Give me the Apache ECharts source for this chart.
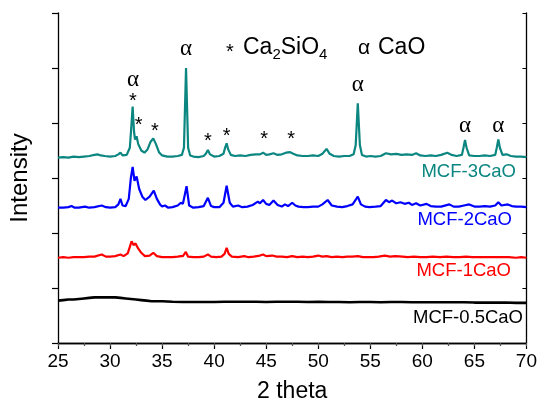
<!DOCTYPE html>
<html><head><meta charset="utf-8">
<script src="https://cdn.jsdelivr.net/npm/echarts@6/dist/echarts.min.js"></script>
<style>html,body{margin:0;padding:0;background:#fff}#c{width:540px;height:408px}</style>
</head><body><div id="c"></div>
<script>
// x-axis tick values (2 theta)
const xTicks = [25, 30, 35, 40, 45, 50, 55, 60, 65, 70];
const seriesNames = ['MCF-3CaO', 'MCF-2CaO', 'MCF-1CaO', 'MCF-0.5CaO'];

// [2theta, stacked intensity (arb. units)]
const mcf3CaO = [[25.0,3.37],[25.5,3.38],[26.0,3.37],[26.5,3.39],[27.0,3.38],[27.5,3.39],[28.0,3.40],[28.5,3.42],[28.8,3.43],[29.1,3.41],[29.5,3.40],[30.0,3.39],[30.5,3.40],[30.8,3.43],[31.0,3.46],[31.2,3.41],[31.6,3.42],[31.9,3.55],[32.05,3.95],[32.17,4.30],[32.3,3.85],[32.4,3.70],[32.55,3.76],[32.7,3.62],[33.0,3.50],[33.3,3.46],[33.6,3.52],[33.9,3.66],[34.15,3.72],[34.4,3.62],[34.7,3.47],[35.0,3.41],[35.5,3.39],[36.0,3.39],[36.5,3.40],[36.9,3.42],[37.1,3.55],[37.3,5.00],[37.5,3.55],[37.7,3.41],[38.0,3.39],[38.5,3.38],[39.0,3.40],[39.2,3.44],[39.4,3.51],[39.6,3.43],[40.0,3.39],[40.5,3.40],[40.9,3.44],[41.05,3.55],[41.2,3.63],[41.35,3.52],[41.6,3.42],[42.0,3.40],[42.5,3.41],[43.0,3.40],[43.5,3.42],[44.0,3.43],[44.4,3.43],[44.7,3.46],[45.0,3.42],[45.3,3.43],[45.7,3.45],[46.1,3.42],[46.5,3.43],[46.9,3.46],[47.3,3.47],[47.6,3.44],[48.0,3.41],[48.5,3.40],[49.0,3.40],[49.5,3.41],[50.0,3.40],[50.4,3.44],[50.8,3.53],[51.1,3.44],[51.5,3.40],[52.0,3.39],[52.5,3.40],[53.0,3.40],[53.4,3.43],[53.6,3.60],[53.8,4.36],[54.0,3.60],[54.2,3.42],[54.6,3.39],[55.0,3.40],[55.5,3.39],[56.0,3.40],[56.5,3.45],[57.0,3.43],[57.5,3.44],[58.0,3.42],[58.5,3.43],[59.0,3.42],[59.4,3.45],[59.8,3.41],[60.3,3.40],[60.8,3.41],[61.3,3.40],[61.8,3.42],[62.4,3.46],[62.8,3.42],[63.3,3.40],[63.8,3.42],[63.95,3.55],[64.1,3.69],[64.25,3.55],[64.5,3.41],[65.0,3.40],[65.5,3.40],[66.0,3.41],[66.5,3.40],[67.0,3.42],[67.15,3.55],[67.3,3.70],[67.45,3.55],[67.7,3.42],[68.1,3.43],[68.5,3.40],[69.0,3.39],[69.5,3.39],[70.0,3.38]];

const mcf2CaO = [[25.0,2.46],[25.5,2.46],[26.0,2.47],[26.3,2.49],[26.6,2.46],[27.0,2.46],[27.6,2.48],[28.0,2.46],[28.5,2.47],[29.2,2.50],[29.6,2.47],[30.0,2.46],[30.5,2.47],[30.8,2.52],[31.0,2.62],[31.2,2.50],[31.5,2.49],[31.8,2.62],[32.0,3.00],[32.17,3.20],[32.35,2.95],[32.55,3.03],[32.8,2.80],[33.1,2.66],[33.4,2.60],[33.8,2.66],[34.2,2.77],[34.5,2.62],[34.8,2.52],[35.0,2.48],[35.27,2.50],[35.6,2.46],[36.0,2.47],[36.5,2.50],[36.8,2.55],[37.0,2.53],[37.35,2.85],[37.6,2.50],[38.0,2.46],[38.5,2.47],[39.0,2.49],[39.4,2.64],[39.7,2.49],[40.0,2.47],[40.5,2.47],[40.9,2.55],[41.2,2.86],[41.5,2.55],[41.8,2.48],[42.3,2.50],[42.7,2.47],[43.2,2.48],[43.7,2.51],[44.2,2.57],[44.4,2.54],[44.7,2.60],[45.0,2.53],[45.3,2.51],[45.7,2.59],[46.1,2.51],[46.5,2.48],[46.8,2.52],[47.1,2.49],[47.5,2.55],[47.8,2.50],[48.1,2.48],[48.6,2.47],[49.0,2.47],[49.5,2.48],[50.0,2.48],[50.4,2.52],[50.9,2.60],[51.3,2.50],[51.8,2.48],[52.3,2.47],[52.8,2.49],[53.3,2.52],[53.8,2.66],[54.1,2.52],[54.5,2.48],[54.9,2.47],[55.5,2.48],[56.0,2.49],[56.5,2.60],[56.8,2.56],[57.1,2.59],[57.5,2.54],[57.9,2.56],[58.3,2.53],[58.7,2.55],[59.0,2.51],[59.4,2.54],[59.8,2.50],[60.4,2.53],[60.8,2.49],[61.3,2.48],[61.8,2.48],[62.6,2.52],[63.0,2.48],[63.5,2.48],[64.0,2.50],[64.5,2.52],[65.0,2.48],[65.5,2.48],[66.0,2.49],[66.5,2.48],[67.0,2.50],[67.3,2.56],[67.6,2.50],[68.2,2.52],[68.6,2.49],[69.0,2.48],[69.5,2.48],[70.0,2.47]];

const mcf1CaO = [[25.0,1.55],[25.5,1.56],[26.0,1.55],[26.5,1.56],[27.0,1.56],[27.5,1.56],[28.0,1.57],[28.5,1.57],[29.2,1.61],[29.6,1.57],[30.0,1.57],[30.5,1.58],[31.0,1.61],[31.3,1.58],[31.7,1.63],[32.07,1.85],[32.25,1.78],[32.45,1.81],[32.7,1.72],[33.0,1.64],[33.35,1.58],[33.8,1.59],[34.15,1.64],[34.5,1.58],[35.0,1.56],[35.5,1.56],[36.0,1.56],[36.5,1.57],[36.8,1.58],[37.0,1.58],[37.28,1.655],[37.5,1.57],[38.0,1.56],[38.5,1.56],[39.0,1.57],[39.4,1.61],[39.7,1.57],[40.2,1.56],[40.7,1.57],[41.0,1.62],[41.2,1.73],[41.4,1.62],[41.7,1.57],[42.3,1.56],[42.9,1.58],[43.3,1.56],[43.8,1.57],[44.4,1.59],[44.7,1.61],[45.0,1.58],[45.6,1.59],[46.0,1.57],[46.5,1.57],[47.0,1.56],[47.5,1.58],[48.0,1.56],[48.5,1.57],[49.0,1.56],[49.5,1.57],[50.0,1.59],[50.4,1.57],[50.8,1.58],[51.3,1.56],[51.8,1.57],[52.3,1.56],[52.8,1.57],[53.3,1.57],[53.8,1.58],[54.3,1.56],[54.8,1.56],[55.3,1.56],[55.8,1.57],[56.4,1.59],[56.9,1.57],[57.4,1.58],[58.1,1.57],[58.6,1.56],[59.2,1.57],[59.8,1.56],[60.4,1.56],[61.0,1.57],[61.7,1.56],[62.3,1.57],[63.0,1.56],[63.6,1.56],[64.2,1.57],[64.8,1.56],[65.5,1.56],[66.2,1.56],[67.0,1.56],[67.6,1.56],[68.3,1.56],[69.0,1.55],[69.5,1.56],[70.0,1.55]];

const mcf05CaO = [[25.0,0.77],[25.5,0.78],[26.0,0.79],[26.5,0.79],[27.0,0.80],[27.5,0.81],[28.0,0.82],[28.5,0.83],[29.0,0.83],[29.5,0.83],[30.0,0.83],[30.5,0.83],[31.0,0.82],[31.5,0.81],[32.0,0.80],[32.5,0.79],[33.0,0.78],[33.5,0.77],[34.0,0.76],[35.0,0.76],[36.0,0.75],[37.0,0.745],[38.0,0.745],[39.0,0.745],[40.0,0.745],[41.0,0.75],[42.0,0.75],[43.0,0.75],[44.0,0.75],[45.0,0.745],[46.0,0.75],[47.0,0.75],[48.0,0.75],[49.0,0.745],[50.0,0.75],[51.0,0.745],[52.0,0.745],[53.0,0.74],[54.0,0.745],[55.0,0.745],[56.0,0.74],[57.0,0.745],[58.0,0.745],[59.0,0.74],[60.0,0.74],[61.0,0.74],[62.0,0.74],[63.0,0.74],[64.0,0.74],[65.0,0.735],[66.0,0.735],[67.0,0.735],[68.0,0.735],[69.0,0.73],[70.0,0.73]];

// phase markers: [2theta, level, symbol]
const caoMarks = [[32.2, 4.79], [37.3, 5.34], [53.8, 4.70], [64.1, 3.95], [67.3, 3.95]];
const ca2sio4Marks = [[32.2, 4.48], [32.75, 4.04], [34.3, 3.93], [39.4, 3.75], [41.2, 3.84], [44.8, 3.80], [47.4, 3.80]];

const colors = ['#0b8680', '#0000ff', '#ff0000', '#000000'];
const dataSets = [mcf3CaO, mcf2CaO, mcf1CaO, mcf05CaO];

const chart = echarts.init(document.getElementById('c'), null, {renderer: 'canvas'});
const FONT = 'Liberation Sans, Arial, sans-serif';

const option = {
  animation: false,
  backgroundColor: '#fff',
  grid: {left: 58, right: 13, top: 13, bottom: 64},
  xAxis: [{
    type: 'value', min: xTicks[0], max: xTicks[xTicks.length - 1], interval: 5,
    position: 'bottom',
    axisLine: {lineStyle: {color: '#000', width: 1.3}},
    axisTick: {inside: false, length: 6, lineStyle: {color: '#000', width: 1.2}},
    minorTick: {show: true, splitNumber: 2, length: 3, lineStyle: {color: '#000', width: 1.2}},
    splitLine: {show: false},
    axisLabel: {color: '#000', fontSize: 19, fontFamily: FONT, margin: 9},
    name: '2 theta', nameLocation: 'middle', nameGap: 37,
    nameTextStyle: {color: '#000', fontSize: 23, fontFamily: FONT}
  }, {
    type: 'value', min: 25, max: 70, interval: 2.5, position: 'top',
    axisLine: {lineStyle: {color: '#000', width: 1.3}},
    axisTick: {inside: true, length: 3, lineStyle: {color: '#555', width: 1}},
    axisLabel: {show: false}, splitLine: {show: false}
  }],
  yAxis: [{
    type: 'value', min: 0, max: 6, interval: 1, position: 'left',
    axisLine: {show: true, lineStyle: {color: '#000', width: 1.3}},
    axisTick: {show: true, inside: false, length: 6, lineStyle: {color: '#000', width: 1.2}},
    axisLabel: {show: false}, splitLine: {show: false},
    name: 'Intensity', nameLocation: 'middle', nameGap: 26,
    nameTextStyle: {color: '#000', fontSize: 24, fontFamily: FONT}
  }, {
    type: 'value', min: 0, max: 6, interval: 1, position: 'right',
    axisLine: {show: true, lineStyle: {color: '#000', width: 1.3}},
    axisTick: {show: true, inside: true, length: 4, lineStyle: {color: '#000', width: 1}},
    axisLabel: {show: false}, splitLine: {show: false}
  }],
  series: dataSets.map((d, i) => ({
    name: seriesNames[i], type: 'line', data: d, showSymbol: false,
    xAxisIndex: 0, yAxisIndex: 0,
    lineStyle: {color: colors[i], width: i === 3 ? 2.6 : 2.2},
    silent: true
  }))
};
chart.setOption(option);

// annotations and labels
const g = [];
caoMarks.forEach(m => {
  const p = chart.convertToPixel({xAxisIndex: 0, yAxisIndex: 0}, m);
  g.push({type: 'text', x: p[0], y: p[1], style: {text: 'α', fontSize: 23, fontFamily: 'Liberation Serif, Times New Roman, serif', fill: '#000', align: 'center', verticalAlign: 'middle'}});
});
ca2sio4Marks.forEach(m => {
  const p = chart.convertToPixel({xAxisIndex: 0, yAxisIndex: 0}, m);
  g.push({type: 'text', x: p[0], y: p[1] + 5, style: {text: '*', fontSize: 20, fontFamily: FONT, fill: '#000', align: 'center', verticalAlign: 'middle'}});
});
// series labels
const labelPos = [[516, 171.5], [512, 219.5], [511, 271], [523, 318]];
seriesNames.forEach((n, i) => {
  g.push({type: 'text', x: labelPos[i][0], y: labelPos[i][1], style: {text: n, fontSize: 18.5, fontFamily: FONT, fill: colors[i], align: 'right', verticalAlign: 'middle'}});
});
// phase legend
g.push({type: 'text', x: 230, y: 52, style: {text: '*', fontSize: 20, fontFamily: FONT, fill: '#000', align: 'center', verticalAlign: 'middle'}});
g.push({type: 'text', x: 243, y: 47.5, style: {
  text: '{n|Ca}{s|2}{n|SiO}{s|4}', verticalAlign: 'middle', align: 'left',
  rich: {n: {fontSize: 23, fontFamily: FONT, fill: '#000', verticalAlign: 'middle'},
         s: {fontSize: 15, fontFamily: FONT, fill: '#000', padding: [14, 0, 0, 0], verticalAlign: 'middle'}}
}});
g.push({type: 'text', x: 364, y: 48, style: {text: 'α', fontSize: 21, fontFamily: FONT, fill: '#000', align: 'center', verticalAlign: 'middle'}});
g.push({type: 'text', x: 378, y: 47.5, style: {text: 'CaO', fontSize: 23, fontFamily: FONT, fill: '#000', align: 'left', verticalAlign: 'middle'}});
chart.setOption({graphic: g});
</script></body></html>
